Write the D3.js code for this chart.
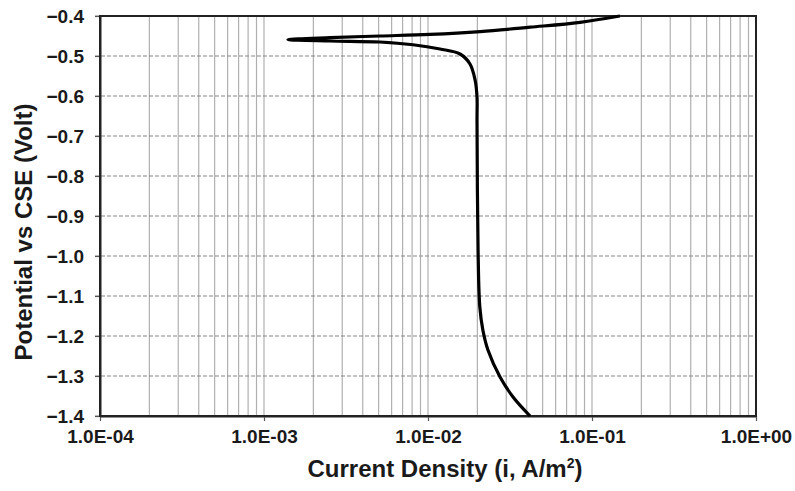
<!DOCTYPE html>
<html>
<head>
<meta charset="utf-8">
<script src="https://cdn.jsdelivr.net/npm/d3@7"></script>
<style>
  body { margin: 0; background: #fff; }
  svg { font-family: "Liberation Sans", Arial, sans-serif; }
</style>
</head>
<body>
<div id="chart"></div>
<script>
// polarization curve (top right -> tip -> bottom)
var current = [0.148, 0.0845, 0.0419, 0.0208, 0.0103, 0.00509, 0.00252, 0.0014,
               0.00252, 0.00509, 0.0081, 0.01183, 0.01567, 0.01803, 0.01937, 0.0199, 0.0199,
               0.0202, 0.0207, 0.0216, 0.0232, 0.0275, 0.033, 0.0419];
var potential = [-0.400, -0.4158, -0.428, -0.439, -0.446, -0.450, -0.454, -0.459,
                 -0.4625, -0.465, -0.4718, -0.4825, -0.4950, -0.5200, -0.560, -0.6025, -0.660,
                 -0.985, -1.1275, -1.185, -1.235, -1.3025, -1.3525, -1.400];

var xTicks = [1e-4, 1e-3, 1e-2, 1e-1, 1];
var yTicks = [-0.4, -0.5, -0.6, -0.7, -0.8, -0.9, -1.0, -1.1, -1.2, -1.3, -1.4];

var W = 795, H = 491;
var m = {left: 100, right: 39, top: 16, bottom: 75};

var svg = d3.select("#chart").append("svg")
	.attr("width", W)
	.attr("height", H);

var x = d3.scaleLog()
	.domain([1e-4, 1])
	.range([m.left, W - m.right]);

var y = d3.scaleLinear()
	.domain([-1.4, -0.4])
	.range([H - m.bottom, m.top]);

// minor vertical grid (2..9 of each decade, plus decades)
var minor = [];
for (var e = -4; e < 0; e++) {
	for (var k = 1; k < 10; k++) minor.push(k * Math.pow(10, e));
}
minor.push(1);

svg.append("g")
	.selectAll("line")
	.data(minor)
	.enter()
	.append("line")
	.attr("x1", d => x(d))
	.attr("x2", d => x(d))
	.attr("y1", y(-1.4))
	.attr("y2", y(-0.4))
	.attr("stroke", "#b0b0b0")
	.attr("stroke-width", 1.2);

// dashed horizontal grid
svg.append("g")
	.selectAll("line")
	.data(yTicks)
	.enter()
	.append("line")
	.attr("x1", x(1e-4) - 5)
	.attr("x2", x(1))
	.attr("y1", d => y(d))
	.attr("y2", d => y(d))
	.attr("stroke", "#858585")
	.attr("stroke-width", 1.2)
	.attr("stroke-dasharray", "4,2");

var fmtX = function(d) {
	var e = Math.round(Math.log10(d));
	return "1.0E" + (e < 0 ? "-" : "+") + String(Math.abs(e)).padStart(2, "0");
};

var xAxis = g => g
	.attr("transform", `translate(0,${y(-1.4)})`)
	.call(d3.axisBottom(x).tickValues(xTicks).tickFormat(fmtX).tickSize(5).tickPadding(9).tickSizeOuter(0));

var yAxis = g => g
	.attr("transform", `translate(${x(1e-4)},0)`)
	.call(d3.axisLeft(y).tickValues(yTicks).tickFormat(d3.format(".1f")).tickSize(5).tickPadding(11).tickSizeOuter(0));

svg.append("g").call(xAxis);
svg.append("g").call(yAxis);

// frame
svg.append("rect")
	.attr("x", x(1e-4))
	.attr("y", y(-0.4))
	.attr("width", x(1) - x(1e-4))
	.attr("height", y(-1.4) - y(-0.4))
	.attr("fill", "none")
	.attr("stroke", "#222")
	.attr("stroke-width", 2);

svg.selectAll(".domain").attr("stroke", "#222").attr("stroke-width", 2);
svg.selectAll(".tick line").attr("stroke", "#555").attr("stroke-width", 1.2);
svg.selectAll(".tick text")
	.attr("font-size", 19)
	.attr("font-weight", "bold")
	.attr("fill", "#1a1a1a")
	.attr("font-family", "Liberation Sans, Arial, sans-serif");

var pts = current.map((c, i) => [c, potential[i]]);
var line = d3.line()
	.x(d => x(d[0]))
	.y(d => y(d[1]))
	.curve(d3.curveCatmullRom.alpha(0.5));

svg.append("path")
	.datum(pts)
	.attr("d", line)
	.attr("fill", "none")
	.attr("stroke", "#000")
	.attr("stroke-width", 3.2);

// titles
var xt = svg.append("text")
	.attr("x", 445)
	.attr("y", 477)
	.attr("text-anchor", "middle")
	.attr("font-size", 24)
	.attr("font-weight", "bold")
	.attr("fill", "#1a1a1a");
xt.append("tspan").text("Current Density (i, A/m");
xt.append("tspan").attr("font-size", 14).attr("dy", -9).text("2");
xt.append("tspan").attr("dy", 9).text(")");

svg.append("text")
	.attr("transform", `translate(32,${(y(-0.4) + y(-1.4)) / 2 + 16}) rotate(-90)`)
	.attr("text-anchor", "middle")
	.attr("font-size", 24)
	.attr("font-weight", "bold")
	.attr("fill", "#1a1a1a")
	.text("Potential vs CSE (Volt)");
</script>
</body>
</html>
